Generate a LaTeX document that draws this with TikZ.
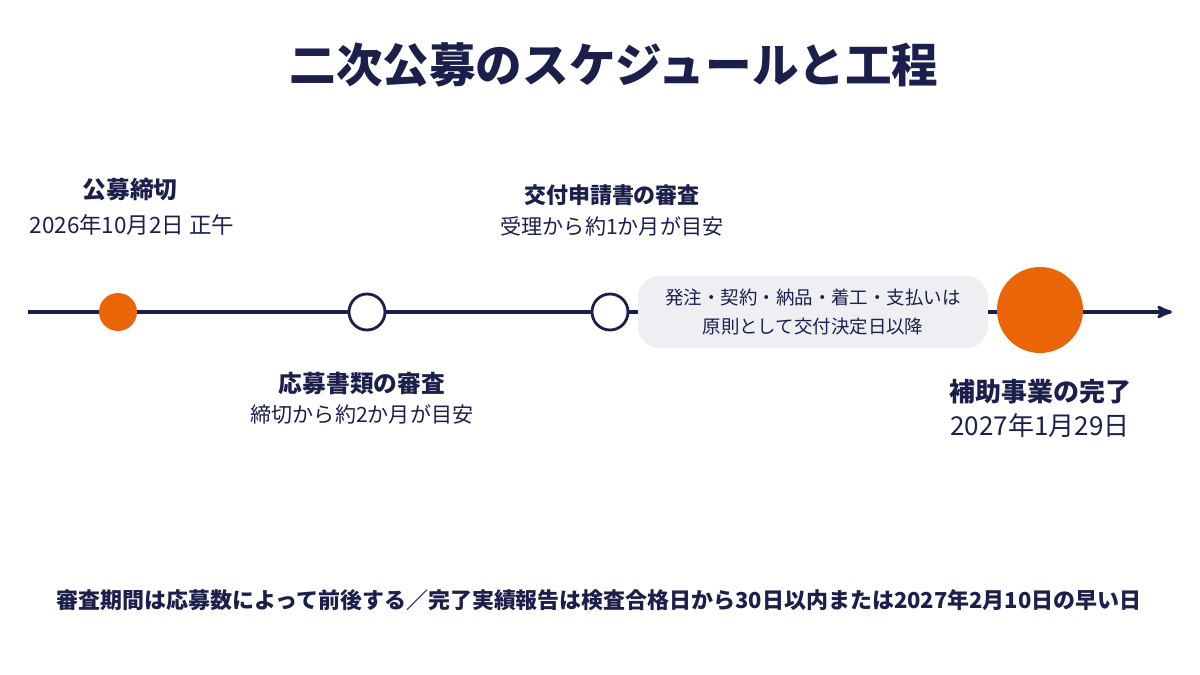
\documentclass[tikz,border=0pt]{standalone}
\usepackage{fontspec}
\setmainfont{Noto Sans CJK JP}
\usetikzlibrary{arrows,positioning}
\definecolor{navy}{HTML}{1B1F4B}
\definecolor{accent}{HTML}{EA6508}
\definecolor{boxgray}{HTML}{EEEFF3}
\tikzset{%
bignode/.style={circle, fill=accent, minimum size=1.72cm, inner sep=0pt},
dotnode/.style={circle, fill=accent, minimum size=0.76cm, inner sep=0pt},
stepnode/.style={circle, draw=navy, line width=1.6pt, fill=white, minimum size=0.72cm, inner sep=0pt},
head/.style={font=\fontsize{13.5}{16}\selectfont\bfseries, text=navy},
sub/.style={font=\fontsize{12}{14}\selectfont, text=navy}
}

\begin{document}
\begin{tikzpicture}[x=0.02cm,y=-0.02cm,>=stealth']
	\useasboundingbox (0,0) rectangle (1200,675);
	\fill[white] (0,0) rectangle (1200,675);
	\node[font=\fontsize{26.5}{30}\selectfont\bfseries, text=navy] (title) at (614,65) {二次公募のスケジュールと工程};
	% timeline
	\coordinate (start) at (28,312);
	\coordinate (stop) at (1172,312);
	\draw[navy, line width=1.8pt, ->] (start) -- (stop);
	\node[dotnode] (deadline) at (118,312) {};
	\node[stepnode] (review) at (367,312) {};
	\node[stepnode] (grant) at (610,312) {};
	\node[fill=boxgray, rounded corners=0.45cm, minimum width=7cm, minimum height=1.46cm,
		align=center, sub, font=\fontsize{10.5}{16}\selectfont] (order) at (813,312)
		{発注・契約・納品・着工・支払いは\\原則として交付決定日以降};
	\node[bignode] (finish) at (1040,310) {};
	% labels
	\node[head] (deadlineA) at (130,190) {公募締切};
	\node[sub, font=\fontsize{12.8}{14}\selectfont] (deadlineB) at (132,225) {2026年10月2日 正午};
	\node[head, font=\fontsize{12.5}{14}\selectfont\bfseries] (grantA) at (612,195) {交付申請書の審査};
	\node[sub] (grantB) at (612,226) {受理から約1か月が目安};
	\node[head] (reviewA) at (362,383) {応募書類の審査};
	\node[sub] (reviewB) at (362,414) {締切から約2か月が目安};
	\node[head, font=\fontsize{14.8}{16}\selectfont\bfseries] (finishA) at (1040,392) {補助事業の完了};
	\node[sub, font=\fontsize{14.8}{16}\selectfont] (finishB) at (1040,426) {2027年1月29日};
	\node[head, font=\fontsize{12.5}{14}\selectfont\bfseries] (note) at (599,600)
		{審査期間は応募数によって前後する／完了実績報告は検査合格日から30日以内または2027年2月10日の早い日};
\end{tikzpicture}
\end{document}
